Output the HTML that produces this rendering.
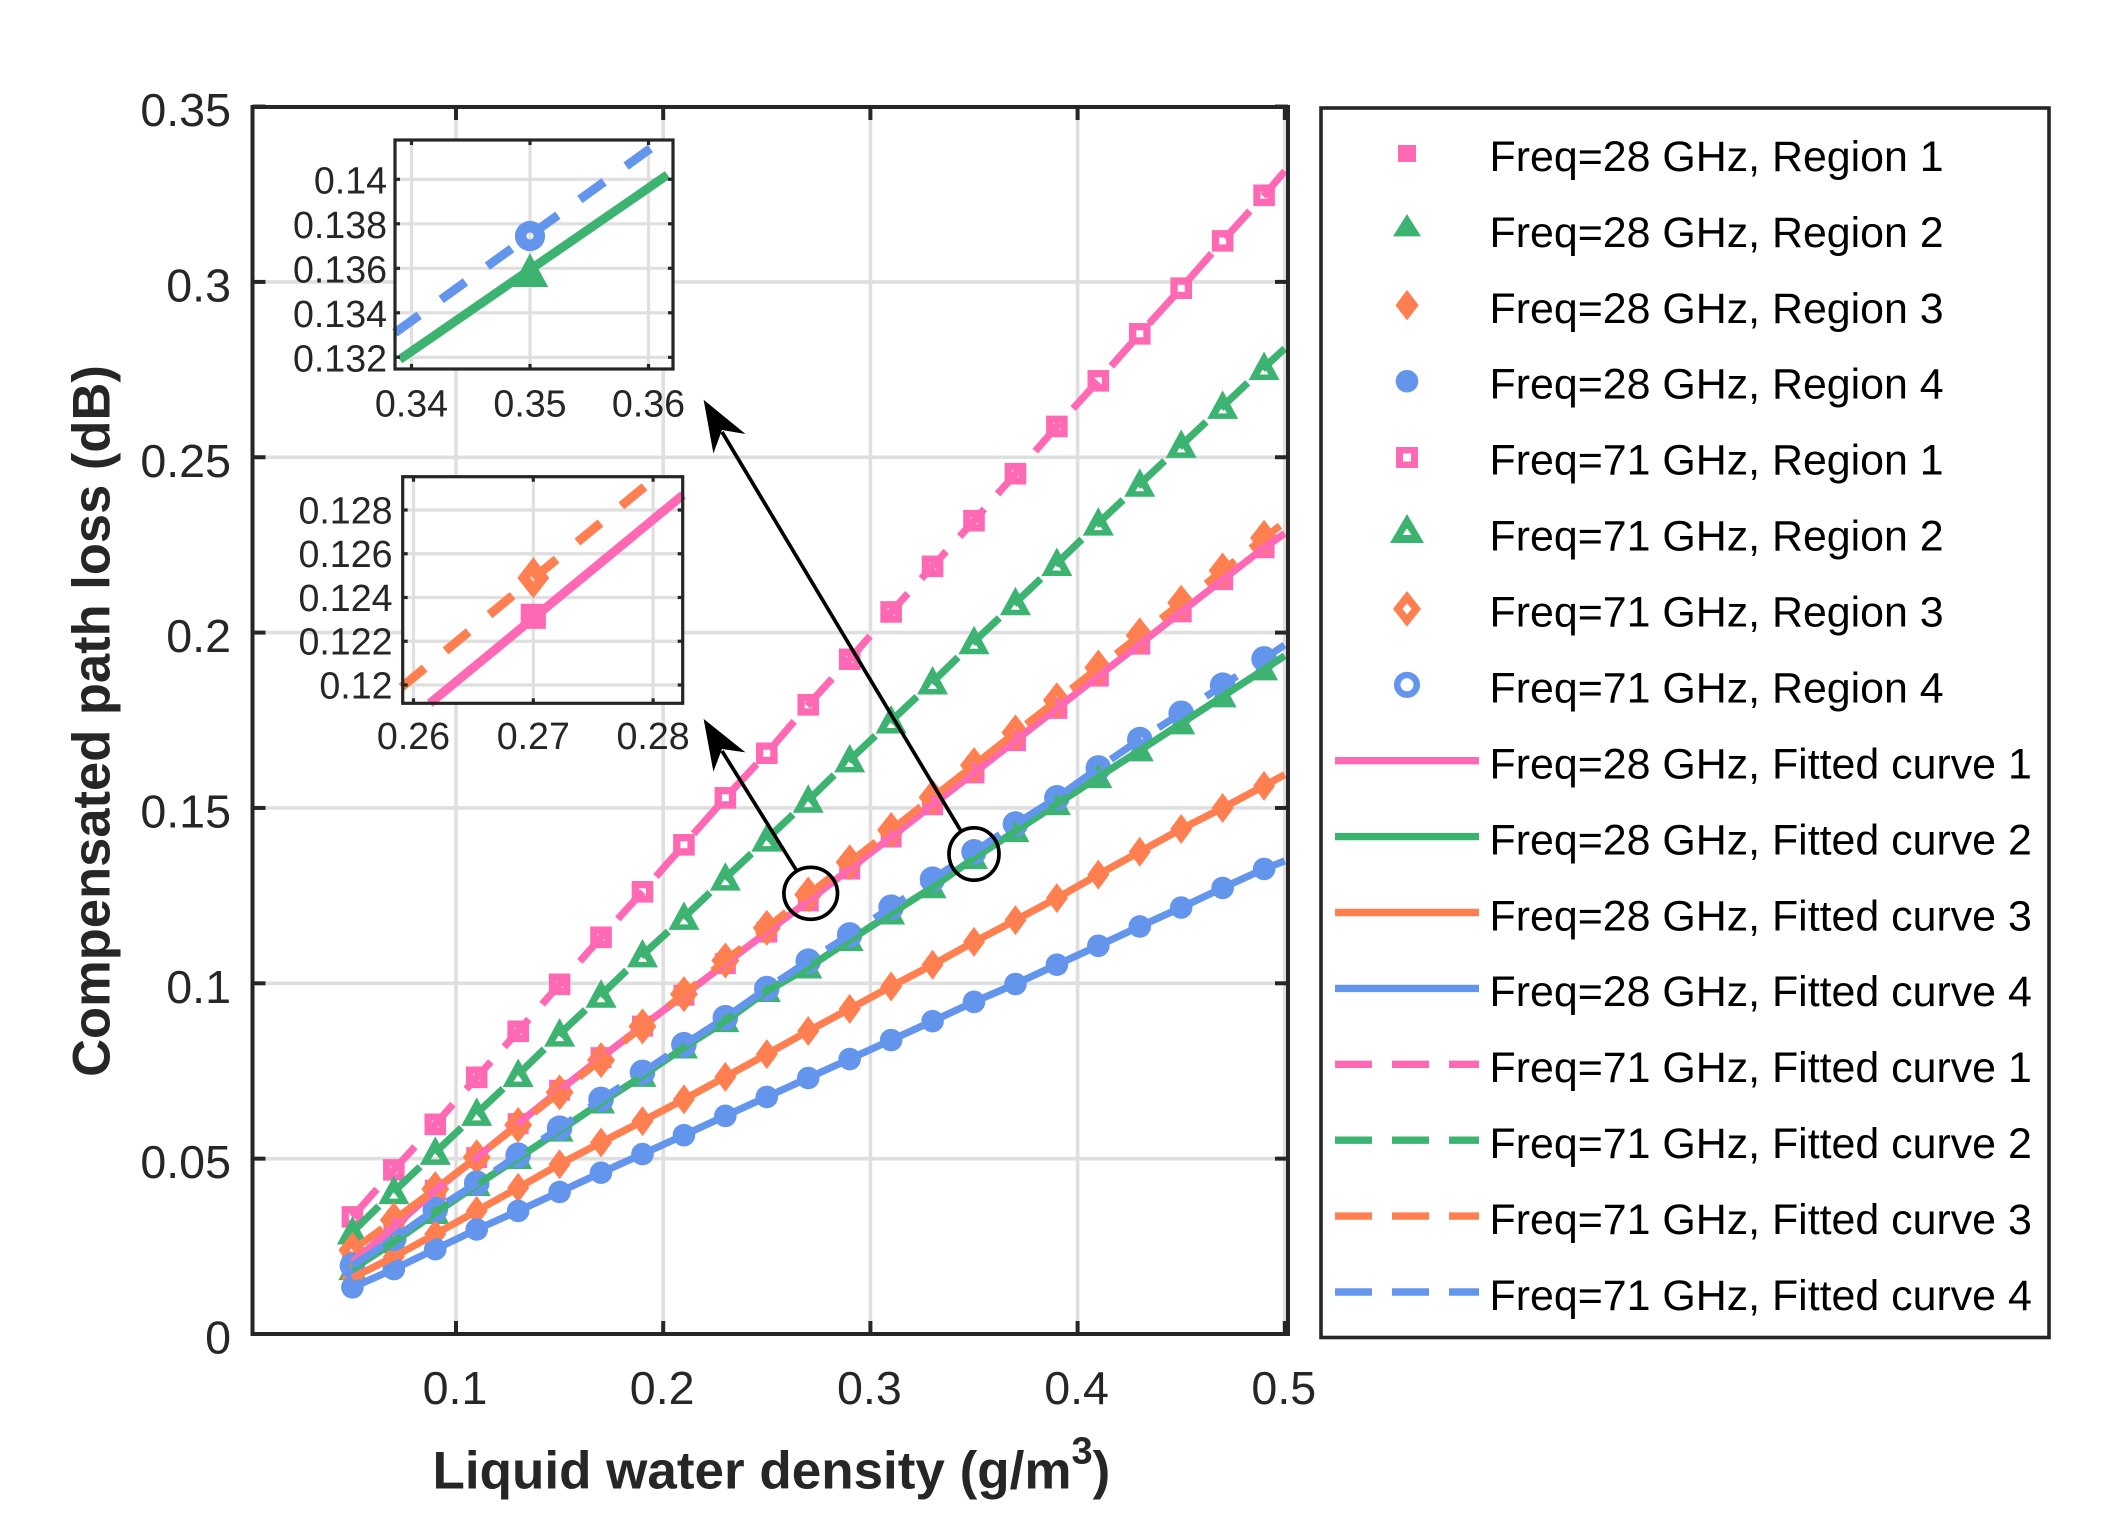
<!DOCTYPE html>
<html lang="en">
<head>
<meta charset="utf-8">
<title>Compensated path loss vs liquid water density</title>
<style>
html,body{margin:0;padding:0;background:#fff;width:2109px;height:1528px;overflow:hidden}
svg{display:block;font-family:"Liberation Sans",Arial,sans-serif}
.tick{font-size:46.6px;fill:#262626}
.itick{font-size:37.6px;fill:#262626}
.title{font-weight:bold;fill:#262626}
.leg{font-size:42.9px;fill:#000;transform:translateY(0.5px)}
</style>
</head>
<body>
<svg id="chart" xmlns="http://www.w3.org/2000/svg" width="2109" height="1528" viewBox="0 0 2109 1528">
  <rect x="0" y="0" width="2109" height="1528" fill="#fff"/>
  <g id="main"></g>
  <g id="inset1"></g>
  <g id="inset2"></g>

  <g fill="none" stroke="#000" stroke-width="3.7">
    <ellipse cx="810.7" cy="893.3" rx="26.8" ry="26"/>
    <ellipse cx="974" cy="854" rx="25" ry="26.2"/>
    <line x1="960.3" y1="830" x2="722" y2="432"/>
    <line x1="796" y1="869.7" x2="722" y2="751"/>
    <polygon fill="#000" stroke="none" points="703.6,399.8 745.5,434 722,430 713.4,453.5"/>
    <polygon fill="#000" stroke="none" points="703.6,718.9 745.5,752.4 722,749 713.4,771.7"/>
  </g>

  <text class="title" font-size="52.5" text-anchor="middle" transform="translate(109.5 721) rotate(-90)">Compensated path loss (dB)</text>
  <text class="title" font-size="53" x="432.5" y="1488.5">Liquid water density (g/m<tspan font-size="38" dy="-25">3</tspan><tspan dy="25">)</tspan></text>

  <g>
    <rect x="1321" y="108" width="728" height="1229.5" fill="#fff" stroke="#262626" stroke-width="3.6"/>

    <g>
      <rect x="1398" y="145" width="18" height="17" fill="#ff69b4"/>
      <text class="leg" x="1489.5" y="170.5">Freq=28 GHz, Region 1</text>
    </g>
    <g>
      <polygon points="1407,214 1421,236.4 1393,236.4" fill="#3cb371"/>
      <text class="leg" x="1489.5" y="246.4">Freq=28 GHz, Region 2</text>
    </g>
    <g>
      <polygon points="1407,290 1418.7,305.3 1407,320.4 1395.5,305.3" fill="#ff7f50"/>
      <text class="leg" x="1489.5" y="322.3">Freq=28 GHz, Region 3</text>
    </g>
    <g>
      <circle cx="1407" cy="381.2" r="11.3" fill="#6495ed"/>
      <text class="leg" x="1489.5" y="398.2">Freq=28 GHz, Region 4</text>
    </g>
    <g>
      <path fill-rule="evenodd" fill="#ff69b4" d="M1396 447h22v21h-22zM1403 453.5v8h8v-8z"/>
      <text class="leg" x="1489.5" y="474.1">Freq=71 GHz, Region 1</text>
    </g>
    <g>
      <path fill-rule="evenodd" fill="#3cb371" d="M1407 514L1424 543H1390ZM1407 528.4L1402.5 535H1411.5Z"/>
      <text class="leg" x="1489.5" y="550">Freq=71 GHz, Region 2</text>
    </g>
    <g>
      <path fill-rule="evenodd" fill="#ff7f50" d="M1407 591L1421 608.9L1407 626.6L1393 608.9ZM1407 603.4L1402.5 608.9L1407 614.4L1411.5 608.9Z"/>
      <text class="leg" x="1489.5" y="625.9">Freq=71 GHz, Region 3</text>
    </g>
    <g>
      <circle cx="1407" cy="684.8" r="9.8" fill="none" stroke="#6495ed" stroke-width="6.6"/>
      <text class="leg" x="1489.5" y="701.8">Freq=71 GHz, Region 4</text>
    </g>

    <g>
      <line x1="1335" x2="1479" y1="760.7" y2="760.7" stroke="#ff69b4" stroke-width="7.4"/>
      <text class="leg" x="1489.5" y="778">Freq=28 GHz, Fitted curve 1</text>
    </g>
    <g>
      <line x1="1335" x2="1479" y1="836.6" y2="836.6" stroke="#3cb371" stroke-width="7.4"/>
      <text class="leg" x="1489.5" y="853.9">Freq=28 GHz, Fitted curve 2</text>
    </g>
    <g>
      <line x1="1335" x2="1479" y1="912.5" y2="912.5" stroke="#ff7f50" stroke-width="7.4"/>
      <text class="leg" x="1489.5" y="929.8">Freq=28 GHz, Fitted curve 3</text>
    </g>
    <g>
      <line x1="1335" x2="1479" y1="988.4" y2="988.4" stroke="#6495ed" stroke-width="7.4"/>
      <text class="leg" x="1489.5" y="1005.7">Freq=28 GHz, Fitted curve 4</text>
    </g>
    <g>
      <line x1="1335" x2="1479" y1="1064.3" y2="1064.3" stroke="#ff69b4" stroke-width="7.4" stroke-dasharray="37 20"/>
      <text class="leg" x="1489.5" y="1081.6">Freq=71 GHz, Fitted curve 1</text>
    </g>
    <g>
      <line x1="1335" x2="1479" y1="1140.2" y2="1140.2" stroke="#3cb371" stroke-width="7.4" stroke-dasharray="37 20"/>
      <text class="leg" x="1489.5" y="1157.5">Freq=71 GHz, Fitted curve 2</text>
    </g>
    <g>
      <line x1="1335" x2="1479" y1="1216.1" y2="1216.1" stroke="#ff7f50" stroke-width="7.4" stroke-dasharray="37 20"/>
      <text class="leg" x="1489.5" y="1233.4">Freq=71 GHz, Fitted curve 3</text>
    </g>
    <g>
      <line x1="1335" x2="1479" y1="1292" y2="1292" stroke="#6495ed" stroke-width="7.4" stroke-dasharray="37 20"/>
      <text class="leg" x="1489.5" y="1309.3">Freq=71 GHz, Fitted curve 4</text>
    </g>
  </g>
</svg>

<script>
/* ---------- chart data ---------- */
const waterDensity = [0.05,0.07,0.09,0.11,0.13,0.15,0.17,0.19,0.21,0.23,0.25,0.27,0.29,0.31,0.33,0.35,0.37,0.39,0.41,0.43,0.45,0.47,0.49];
const fitDensity   = [0.05,0.07,0.09,0.11,0.13,0.15,0.17,0.19,0.21,0.23,0.25,0.27,0.29,0.31,0.33,0.35,0.37,0.39,0.41,0.43,0.45,0.47,0.49,0.5];

const meas28R1 = [0.0205,0.0305,0.041,0.0503,0.06,0.0695,0.0788,0.0878,0.0966,0.1056,0.1146,0.1235,0.1326,0.1417,0.1509,0.16,0.1692,0.1784,0.1876,0.1967,0.2059,0.2151,0.2242];
const meas28R2 = [0.0185,0.0262,0.0345,0.0425,0.0502,0.058,0.066,0.0736,0.0817,0.0892,0.0978,0.1045,0.1123,0.1199,0.1274,0.1357,0.1434,0.1511,0.1588,0.1664,0.1741,0.1818,0.1895];
const meas28R3 = [0.016,0.022,0.0285,0.0351,0.0417,0.0484,0.0546,0.0607,0.0669,0.0733,0.0798,0.0864,0.0927,0.0991,0.1053,0.1118,0.118,0.1243,0.131,0.1375,0.144,0.15,0.1563];
const meas28R4 = [0.0133,0.0185,0.0242,0.0298,0.0351,0.0405,0.046,0.0513,0.0567,0.0622,0.0676,0.073,0.0784,0.0838,0.0892,0.0947,0.0998,0.1053,0.1107,0.1162,0.1216,0.1272,0.1326];
const meas71R1 = [0.0334,0.0468,0.0598,0.0732,0.0863,0.0997,0.1131,0.1261,0.1395,0.1529,0.1656,0.1794,0.1924,0.2059,0.2189,0.2319,0.2453,0.2588,0.2718,0.2852,0.2982,0.3117,0.3247];
const meas71R2 = [0.0291,0.0406,0.0518,0.0629,0.074,0.0855,0.0966,0.1081,0.1188,0.13,0.1411,0.1522,0.1637,0.1748,0.1859,0.1974,0.2085,0.2197,0.2312,0.2423,0.2534,0.2645,0.2756];
const meas71R3 = [0.0239,0.0325,0.0413,0.0504,0.0596,0.0689,0.0781,0.0877,0.0969,0.1065,0.1158,0.1253,0.1345,0.1437,0.153,0.1622,0.1715,0.1807,0.19,0.1992,0.2085,0.2177,0.227];
const meas71R4 = [0.0195,0.0272,0.0355,0.043,0.051,0.0587,0.0669,0.0746,0.0825,0.0902,0.0985,0.1063,0.1138,0.1217,0.1297,0.1375,0.1454,0.1529,0.1614,0.1695,0.177,0.185,0.1925];

const fit28C1 = [0.0205,0.0305,0.041,0.0503,0.06,0.0695,0.0788,0.0878,0.0966,0.1056,0.1146,0.1235,0.1326,0.1417,0.1509,0.16,0.1692,0.1784,0.1876,0.1967,0.2059,0.2151,0.2242,0.2283];
const fit28C2 = [0.0185,0.0262,0.0345,0.0425,0.0502,0.058,0.066,0.0736,0.0817,0.0892,0.0978,0.1045,0.1123,0.1199,0.1274,0.1357,0.1434,0.1511,0.1588,0.1664,0.1741,0.1818,0.1895,0.1934];
const fit28C3 = [0.016,0.022,0.0285,0.0351,0.0417,0.0484,0.0546,0.0607,0.0669,0.0733,0.0798,0.0864,0.0927,0.0991,0.1053,0.1118,0.118,0.1243,0.131,0.1375,0.144,0.15,0.1563,0.1595];
const fit28C4 = [0.0133,0.0185,0.0242,0.0298,0.0351,0.0405,0.046,0.0513,0.0567,0.0622,0.0676,0.073,0.0784,0.0838,0.0892,0.0947,0.0998,0.1053,0.1107,0.1162,0.1216,0.1272,0.1326,0.1349];
const fit71C1 = [0.0334,0.0468,0.0598,0.0732,0.0863,0.0997,0.1131,0.1261,0.1395,0.1529,0.1656,0.1794,0.1924,0.2059,0.2189,0.2319,0.2453,0.2588,0.2718,0.2852,0.2982,0.3117,0.3247,0.3316];
const fit71C2 = [0.0291,0.0406,0.0518,0.0629,0.074,0.0855,0.0966,0.1081,0.1188,0.13,0.1411,0.1522,0.1637,0.1748,0.1859,0.1974,0.2085,0.2197,0.2312,0.2423,0.2534,0.2645,0.2756,0.281];
const fit71C3 = [0.0239,0.0325,0.0413,0.0504,0.0596,0.0689,0.0781,0.0877,0.0969,0.1065,0.1158,0.1253,0.1345,0.1437,0.153,0.1622,0.1715,0.1807,0.19,0.1992,0.2085,0.2177,0.227,0.2315];
const fit71C4 = [0.0195,0.0272,0.0355,0.043,0.051,0.0587,0.0669,0.0746,0.0825,0.0902,0.0985,0.1063,0.1138,0.1217,0.1297,0.1375,0.1454,0.1529,0.1614,0.1695,0.177,0.185,0.1925,0.1965];

const xTickValues = [0.1,0.2,0.3,0.4,0.5];
const xTickLabels = ['0.1','0.2','0.3','0.4','0.5'];
const yTickValues = [0,0.05,0.1,0.15,0.2,0.25,0.3,0.35];
const yTickLabels = ['0','0.05','0.1','0.15','0.2','0.25','0.3','0.35'];

/* inset near 0.35 */
const inset1XTicks = [0.34,0.35,0.36];
const inset1XLabels = ['0.34','0.35','0.36'];
const inset1YTicks = [0.132,0.134,0.136,0.138,0.14];
const inset1YLabels = ['0.132','0.134','0.136','0.138','0.14'];
const inset1FitX = [0.339,0.3616];
const inset1FitGreen = [0.1319,0.1402];
const inset1FitBlueX = [0.3386,0.3602];
const inset1FitBlue = [0.1331,0.1414];
const inset1MarkerX = [0.35];
const inset1MarkerGreen = [0.1358];
const inset1MarkerBlue = [0.13745];

/* inset near 0.27 */
const inset2XTicks = [0.26,0.27,0.28];
const inset2XLabels = ['0.26','0.27','0.28'];
const inset2YTicks = [0.12,0.122,0.124,0.126,0.128];
const inset2YLabels = ['0.12','0.122','0.124','0.126','0.128'];
const inset2FitPinkX = [0.26136,0.2825];
const inset2FitPink = [0.11916,0.12869];
const inset2FitOrangeX = [0.259,0.27945];
const inset2FitOrange = [0.1199,0.12914];
const inset2MarkerX = [0.27];
const inset2MarkerPink = [0.12314];
const inset2MarkerOrange = [0.1249];

/* ---------- helpers ---------- */
const NS = 'http://www.w3.org/2000/svg';
const PINK = '#ff69b4', GREEN = '#3cb371', CORAL = '#ff7f50', BLUE = '#6495ed';
const INK = '#262626', GRID = '#dfdfdf';

function mk(parent, tag, attrs, text) {
  const el = document.createElementNS(NS, tag);
  for (const k in attrs) el.setAttribute(k, attrs[k]);
  if (text !== undefined) el.textContent = text;
  parent.appendChild(el);
  return el;
}

function circ(cx, cy, r) {
  return 'M' + (cx - r) + ' ' + cy + 'A' + r + ' ' + r + ' 0 1 0 ' + (cx + r) + ' ' + cy +
         'A' + r + ' ' + r + ' 0 1 0 ' + (cx - r) + ' ' + cy + 'Z';
}
function box(cx, cy, a) {
  return 'M' + (cx - a) + ' ' + (cy - a) + 'H' + (cx + a) + 'V' + (cy + a) + 'H' + (cx - a) + 'Z';
}
function dia(cx, cy, w, h) {
  return 'M' + cx + ' ' + (cy - h) + 'L' + (cx + w) + ' ' + cy + 'L' + cx + ' ' + (cy + h) + 'L' + (cx - w) + ' ' + cy + 'Z';
}
function tri(cx, cy, w, up, down) {
  return 'M' + cx + ' ' + (cy - up) + 'L' + (cx + w) + ' ' + (cy + down) + 'L' + (cx - w) + ' ' + (cy + down) + 'Z';
}
function markerPath(kind, x, y, k) {
  switch (kind) {
    case 'square':     return box(x, y, 10.5 * k);
    case 'square-o':   return box(x, y, 10.8 * k) + box(x, y, 3.5 * k);
    case 'triangle':   return tri(x, y, 14 * k, 15 * k, 11 * k);
    case 'triangle-o': return tri(x, y, 15.5 * k, 16 * k, 12.5 * k) + tri(x, y + 4 * k, 4.5 * k, 4 * k, 3 * k);
    case 'diamond':    return dia(x, y, 11 * k, 15 * k);
    case 'diamond-o':  return dia(x, y, 14 * k, 18 * k) + dia(x, y, 2.6 * k, 3.6 * k);
    case 'circle':     return circ(x, y, 11.3 * k);
    case 'circle-o':   return circ(x, y, 12.8 * k) + circ(x, y, 3 * k);
  }
  return '';
}

/* ---------- main plot ---------- */
const plotLeft = 252.5, plotRight = 1288, plotTop = 107, plotBottom = 1334;
const xScale = v => 456 + (v - 0.1) * 2072;
const yScale = v => 1334 - v * 3507;

const mainG = document.getElementById('main');

const bg = mk(mainG, 'rect', {x: plotLeft, y: plotTop, width: plotRight - plotLeft, height: plotBottom - plotTop, fill: '#fff'});



xTickValues.forEach(v => {
  const g = mk(mainG, 'line', {x1: xScale(v), x2: xScale(v), y1: plotTop, y2: plotBottom, stroke: GRID, 'stroke-width': 3.6});
  
  
});
yTickValues.forEach(v => {
  const g = mk(mainG, 'line', {x1: plotLeft, x2: plotRight, y1: yScale(v), y2: yScale(v), stroke: GRID, 'stroke-width': 3.6});
  
  
});

const markerSeries = [
  {name: '28ghz-region-1', color: PINK,  kind: 'square',     values: meas28R1},
  {name: '28ghz-region-2', color: GREEN, kind: 'triangle',   values: meas28R2},
  {name: '28ghz-region-3', color: CORAL, kind: 'diamond',    values: meas28R3},
  {name: '28ghz-region-4', color: BLUE,  kind: 'circle',     values: meas28R4},
  {name: '71ghz-region-1', color: PINK,  kind: 'square-o',   values: meas71R1},
  {name: '71ghz-region-2', color: GREEN, kind: 'triangle-o', values: meas71R2},
  {name: '71ghz-region-3', color: CORAL, kind: 'diamond-o',  values: meas71R3},
  {name: '71ghz-region-4', color: BLUE,  kind: 'circle-o',   values: meas71R4}
];
const fitSeries = [
  {name: '28ghz-fit-1', color: PINK,  dash: 'none',  values: fit28C1},
  {name: '28ghz-fit-2', color: GREEN, dash: 'none',  values: fit28C2},
  {name: '28ghz-fit-3', color: CORAL, dash: 'none',  values: fit28C3},
  {name: '28ghz-fit-4', color: BLUE,  dash: 'none',  values: fit28C4},
  {name: '71ghz-fit-1', color: PINK,  dash: '37 20', values: fit71C1},
  {name: '71ghz-fit-2', color: GREEN, dash: '37 20', values: fit71C2},
  {name: '71ghz-fit-3', color: CORAL, dash: '37 20', values: fit71C3},
  {name: '71ghz-fit-4', color: BLUE,  dash: '37 20', values: fit71C4}
];

markerSeries.forEach(s => {
  const group = mk(mainG, 'g', {fill: s.color, 'fill-rule': 'evenodd'});
  
  
  s.values.forEach((v, i) => {
    const p = mk(group, 'path', {d: markerPath(s.kind, xScale(waterDensity[i]), yScale(v), 1)});
    
    
  });
});

fitSeries.forEach(s => {
  const pts = s.values.map((v, i) => xScale(fitDensity[i]).toFixed(2) + ',' + yScale(v).toFixed(2)).join(' ');
  const line = mk(mainG, 'polyline', {points: pts, fill: 'none', stroke: s.color, 'stroke-width': 7.3, 'stroke-dasharray': s.dash, 'stroke-linejoin': 'round'});
  
  
});

const frame = mk(mainG, 'rect', {x: plotLeft, y: plotTop, width: plotRight - plotLeft, height: plotBottom - plotTop, fill: 'none', stroke: INK, 'stroke-width': 4});



xTickValues.forEach((v, i) => {
  const a = mk(mainG, 'line', {x1: xScale(v), x2: xScale(v), y1: plotBottom, y2: plotBottom - 13, stroke: INK, 'stroke-width': 4});
  
  
  const b = mk(mainG, 'line', {x1: xScale(v), x2: xScale(v), y1: plotTop, y2: plotTop + 13, stroke: INK, 'stroke-width': 4});
  
  
  const t = mk(mainG, 'text', {x: xScale(v) - 1, y: 1404, 'text-anchor': 'middle', class: 'tick'}, xTickLabels[i]);
  
  
});
yTickValues.forEach((v, i) => {
  const a = mk(mainG, 'line', {x1: plotLeft, x2: plotLeft + 13, y1: yScale(v), y2: yScale(v), stroke: INK, 'stroke-width': 4});
  
  
  const b = mk(mainG, 'line', {x1: plotRight, x2: plotRight - 13, y1: yScale(v), y2: yScale(v), stroke: INK, 'stroke-width': 4});
  
  
  const t = mk(mainG, 'text', {x: 231, y: yScale(v) + 19.5, 'text-anchor': 'end', class: 'tick'}, yTickLabels[i]);
  
  
});

/* ---------- insets ---------- */
function drawInsetFrame(g, rect, xs, ys, xTicks, yTicks) {
  const r = mk(g, 'rect', {x: rect.l, y: rect.t, width: rect.r - rect.l, height: rect.b - rect.t, fill: '#fff'});
  
  
  xTicks.forEach(v => {
    const l = mk(g, 'line', {x1: xs(v), x2: xs(v), y1: rect.t, y2: rect.b, stroke: GRID, 'stroke-width': 3.2});
    
    
  });
  yTicks.forEach(v => {
    const l = mk(g, 'line', {x1: rect.l, x2: rect.r, y1: ys(v), y2: ys(v), stroke: GRID, 'stroke-width': 3.2});
    
    
  });
}
function drawInsetAxes(g, rect, xs, ys, xTicks, xLabels, yTicks, yLabels, labelRight, xBase, yOff) {
  const f = mk(g, 'rect', {x: rect.l, y: rect.t, width: rect.r - rect.l, height: rect.b - rect.t, fill: 'none', stroke: INK, 'stroke-width': 3.2});
  
  
  xTicks.forEach((v, i) => {
    const a = mk(g, 'line', {x1: xs(v), x2: xs(v), y1: rect.b, y2: rect.b - 5, stroke: INK, 'stroke-width': 3.2});
    
    
    const b = mk(g, 'line', {x1: xs(v), x2: xs(v), y1: rect.t, y2: rect.t + 5, stroke: INK, 'stroke-width': 3.2});
    
    
    const t = mk(g, 'text', {x: xs(v), y: xBase, 'text-anchor': 'middle', class: 'itick'}, xLabels[i]);
    
    
  });
  yTicks.forEach((v, i) => {
    const a = mk(g, 'line', {x1: rect.l, x2: rect.l + 5, y1: ys(v), y2: ys(v), stroke: INK, 'stroke-width': 3.2});
    
    
    const b = mk(g, 'line', {x1: rect.r, x2: rect.r - 5, y1: ys(v), y2: ys(v), stroke: INK, 'stroke-width': 3.2});
    
    
    const t = mk(g, 'text', {x: labelRight, y: ys(v) + yOff, 'text-anchor': 'end', class: 'itick'}, yLabels[i]);
    
    
  });
}
function insetLine(g, name, xs, ys, xv, yv, color, dash) {
  const pts = yv.map((v, i) => xs(xv[i]).toFixed(2) + ',' + ys(v).toFixed(2)).join(' ');
  const l = mk(g, 'polyline', {points: pts, fill: 'none', stroke: color, 'stroke-width': 9, 'stroke-dasharray': dash});
  
  
}
function insetMarker(g, name, xs, ys, xv, yv, color, kind, k) {
  yv.forEach((v, i) => {
    const p = mk(g, 'path', {d: markerPath(kind, xs(xv[i]), ys(v), k), fill: color, 'fill-rule': 'evenodd'});
    
    
  });
}

const i1 = document.getElementById('inset1');
const i1Rect = {l: 395, r: 673, t: 140, b: 369};
const i1x = v => 530 + (v - 0.35) * 11850;
const i1y = v => 268.3 - (v - 0.136) * 22250;
drawInsetFrame(i1, i1Rect, i1x, i1y, inset1XTicks, inset1YTicks);
insetMarker(i1, 'inset-point-28ghz-region-2', i1x, i1y, inset1MarkerX, inset1MarkerGreen, GREEN, 'triangle', 1.3);
insetMarker(i1, 'inset-point-71ghz-region-4', i1x, i1y, inset1MarkerX, inset1MarkerBlue, BLUE, 'circle-o', 1.18);
insetLine(i1, 'inset-line-28ghz-fit-2', i1x, i1y, inset1FitX, inset1FitGreen, GREEN, 'none');
insetLine(i1, 'inset-line-71ghz-fit-4', i1x, i1y, inset1FitBlueX, inset1FitBlue, BLUE, '30 27');
drawInsetAxes(i1, i1Rect, i1x, i1y, inset1XTicks, inset1XLabels, inset1YTicks, inset1YLabels, 387, 416.5, 14.2);

const i2 = document.getElementById('inset2');
const i2Rect = {l: 402.7, r: 682.7, t: 476.7, b: 703.3};
const i2x = v => 533.3 + (v - 0.27) * 11980;
const i2y = v => 685 - (v - 0.12) * 21875;
drawInsetFrame(i2, i2Rect, i2x, i2y, inset2XTicks, inset2YTicks);
insetMarker(i2, 'inset-point-28ghz-region-1', i2x, i2y, inset2MarkerX, inset2MarkerPink, PINK, 'square', 1.2);
insetMarker(i2, 'inset-point-71ghz-region-3', i2x, i2y, inset2MarkerX, inset2MarkerOrange, CORAL, 'diamond-o', 1.14);
insetLine(i2, 'inset-line-28ghz-fit-1', i2x, i2y, inset2FitPinkX, inset2FitPink, PINK, 'none');
insetLine(i2, 'inset-line-71ghz-fit-3', i2x, i2y, inset2FitOrangeX, inset2FitOrange, CORAL, '30 27');
drawInsetAxes(i2, i2Rect, i2x, i2y, inset2XTicks, inset2XLabels, inset2YTicks, inset2YLabels, 392.5, 749, 13.4);
</script>
</body>
</html>
